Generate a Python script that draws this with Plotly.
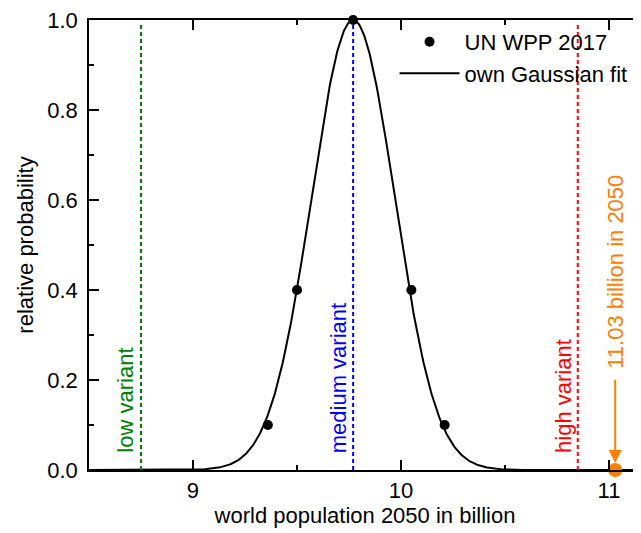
import numpy as np
import plotly.graph_objects as go

# ---- data ----
wpp_pop = [9.36, 9.50, 9.77, 10.05, 10.21]      # UN WPP 2017 points (billion)
wpp_prob = [0.1, 0.4, 1.0, 0.4, 0.1]            # relative probability

fit_mean = 9.77     # own Gaussian fit parameters
fit_sigma = 0.20

variant_names = ["low variant", "medium variant", "high variant"]
variant_pop = [8.75, 9.77, 10.85]
variant_top = [0.99, 1.0, 0.99]
variant_colors = ["#008000", "#0000FF", "#FF0000"]

actual_pop = 11.03
actual_label = "11.03 billion in 2050"
actual_color = "#FF8000"

x_tickvals = [9, 10, 11]
y_tickvals = [0.0, 0.2, 0.4, 0.6, 0.8, 1.0]
y_ticktext = ["0.0", "0.2", "0.4", "0.6", "0.8", "1.0"]

x_range = [8.5, 11.154]
y_range = [0.0, 1.0]

FONT = "Liberation Sans, Arial, sans-serif"

fig = go.Figure()

# Gaussian fit curve
xf = np.linspace(x_range[0], x_range[1], 600)
yf = np.exp(-0.5 * ((xf - fit_mean) / fit_sigma) ** 2)
fig.add_trace(go.Scatter(x=xf, y=yf, mode="lines", name="own Gaussian fit",
                         line=dict(color="black", width=2), cliponaxis=False,
                         legendrank=2))

# Variant lines
for name, v, top, c in zip(variant_names, variant_pop, variant_top, variant_colors):
    fig.add_trace(go.Scatter(x=[v, v], y=[0, top], mode="lines", showlegend=False,
                             line=dict(color=c, width=2, dash="4px,3px")))
    fig.add_annotation(x=v, y=0.033, text=name, textangle=-90, showarrow=False,
                       xanchor="center", yanchor="bottom", xshift=-15,
                       font=dict(family=FONT, size=22, color=c))

# UN WPP points
fig.add_trace(go.Scatter(x=wpp_pop, y=wpp_prob, mode="markers", name="UN WPP 2017",
                         marker=dict(color="black", size=10), cliponaxis=False,
                         legendrank=1))

# actual 2050 point with arrow
fig.add_trace(go.Scatter(x=[actual_pop], y=[0], mode="markers", showlegend=False,
                         marker=dict(color=actual_color, size=14), cliponaxis=False))
fig.add_annotation(x=actual_pop, y=0, ax=actual_pop, ay=0.204, axref="x", ayref="y",
                   xref="x", yref="y", text="", showarrow=True, arrowhead=2,
                   arrowsize=1.3, arrowwidth=2, arrowcolor=actual_color, standoff=7)
fig.add_annotation(x=actual_pop, y=0.221, text=actual_label, textangle=-90,
                   showarrow=False, xanchor="center", yanchor="bottom",
                   font=dict(family=FONT, size=22, color=actual_color))

axis_common = dict(showline=True, linecolor="black", linewidth=1.5, ticks="inside",
                   ticklen=10, tickwidth=1.5, tickcolor="black", showgrid=False,
                   zeroline=False, ticklabeloverflow="allow",
                   tickfont=dict(family=FONT, size=22, color="black"))

fig.update_xaxes(range=x_range, tickmode="array", tickvals=x_tickvals, mirror="ticks",
                 minor=dict(dtick=0.5, tick0=9, ticks="inside", ticklen=5, tickwidth=1.5,
                            tickcolor="black"),
                 title=dict(text="world population 2050 in billion", standoff=4,
                            font=dict(family=FONT, size=22, color="black")),
                 **axis_common)
fig.update_yaxes(range=y_range, tickmode="array", tickvals=y_tickvals,
                 ticktext=y_ticktext, ticklabelstandoff=5,
                 minor=dict(dtick=0.1, tick0=0, ticks="inside", ticklen=5, tickwidth=1.5,
                            tickcolor="black"),
                 title=dict(text="relative probability", standoff=8,
                            font=dict(family=FONT, size=22, color="black")),
                 **axis_common)

# page body has an 8px margin: size the figure so it fills the 641x533 window
fig.update_layout(width=633, height=525, autosize=False,
                  margin=dict(l=81, r=0, t=10, b=63),
                  plot_bgcolor="white", paper_bgcolor="white",
                  font=dict(family=FONT, size=22, color="black"),
                  legend=dict(x=0.5535, y=0.998, xanchor="left", yanchor="top",
                              bgcolor="rgba(0,0,0,0)", itemwidth=60,
                              font=dict(family=FONT, size=22, color="black")))

fig.write_html("out.html")
